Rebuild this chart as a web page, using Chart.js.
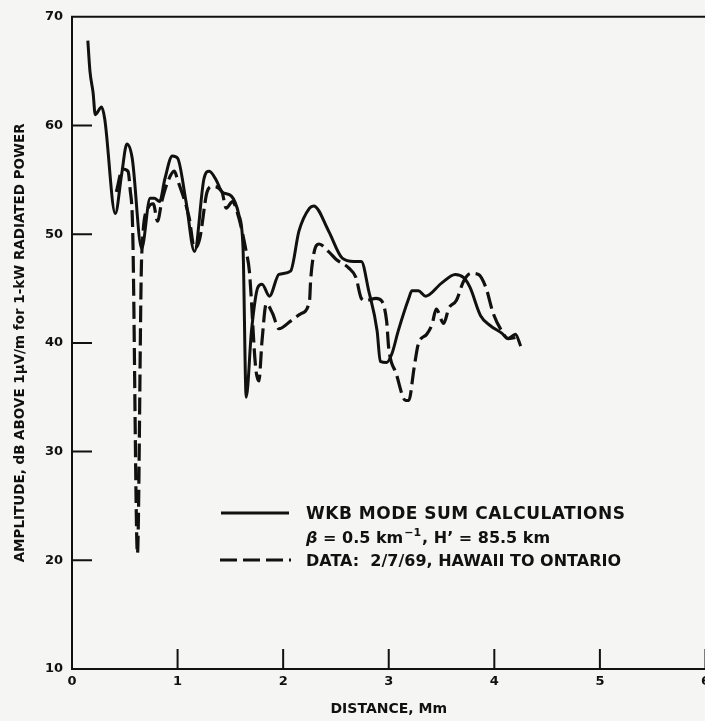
<!DOCTYPE html>
<html lang="en">
<head>
  <meta charset="UTF-8">
  <title>WKB mode sum vs data</title>
  <script src="https://cdn.jsdelivr.net/npm/chart.js"></script>
  <style>
    body {
      margin: 0;
      background: #f5f5f4;
      overflow: hidden;
    }
    #wrap {
      width: 715px;
      height: 721px;
    }
  </style>
</head>
<body>
<div id="wrap">
  <canvas id="ampChart" width="715" height="721"></canvas>
</div>

<script>
  // distance in Mm, amplitude in dB
  const wkbX = [0.15, 0.17, 0.20, 0.22, 0.28, 0.31, 0.41, 0.47, 0.52, 0.57,
    0.66, 0.74, 0.78, 0.83, 0.88, 0.95, 1.00, 1.08, 1.16, 1.25,
    1.30, 1.37, 1.42, 1.51, 1.58, 1.62, 1.65, 1.70, 1.76, 1.80,
    1.87, 1.96, 2.07, 2.15, 2.25, 2.29, 2.43, 2.56, 2.67, 2.74,
    2.81, 2.89, 2.92, 2.98, 3.03, 3.09, 3.19, 3.22, 3.28, 3.35,
    3.50, 3.63, 3.71, 3.77, 3.87, 3.96, 4.07, 4.13, 4.20, 4.25];
  const wkbY = [67.8, 65.0, 63.0, 61.0, 61.7, 60.6, 51.9, 55.5, 58.3, 57.0,
    48.7, 53.3, 53.3, 53.0, 55.1, 57.2, 57.0, 53.0, 48.4, 55.1,
    55.8, 54.9, 53.9, 53.5, 51.8, 48.7, 35.0, 41.1, 45.1, 45.4,
    44.3, 46.3, 46.6, 50.3, 52.4, 52.6, 50.3, 47.8, 47.5, 47.5,
    44.8, 41.1, 38.3, 38.2, 39.0, 41.1, 44.1, 44.8, 44.8, 44.3,
    45.5, 46.3, 46.0, 45.1, 42.5, 41.6, 40.9, 40.4, 40.8, 39.7];

  const dataX = [0.42, 0.48, 0.53, 0.55, 0.575, 0.62, 0.66, 0.72, 0.77, 0.81,
    0.85, 0.91, 0.97, 1.00, 1.11, 1.16, 1.21, 1.28, 1.33, 1.42,
    1.46, 1.52, 1.58, 1.65, 1.68, 1.74, 1.77, 1.80, 1.84, 1.90,
    1.96, 2.07, 2.17, 2.25, 2.26, 2.29, 2.34, 2.43, 2.50, 2.62,
    2.69, 2.74, 2.78, 2.88, 2.93, 2.98, 3.00, 3.07, 3.16, 3.19,
    3.24, 3.28, 3.36, 3.41, 3.45, 3.52, 3.57, 3.64, 3.71, 3.78,
    3.85, 3.92, 3.99, 4.07, 4.13, 4.20];
  const dataY = [53.9, 56.0, 55.8, 54.2, 50.3, 20.6, 48.0, 52.4, 52.8, 51.2,
    53.0, 54.9, 55.8, 55.0, 51.5, 48.7, 49.6, 53.9, 54.4, 53.9,
    52.4, 53.0, 51.5, 48.4, 46.6, 37.7, 36.5, 40.2, 43.6, 42.7,
    41.3, 42.0, 42.7, 43.9, 45.7, 48.2, 49.1, 48.4, 47.7, 46.9,
    46.0, 44.1, 43.9, 44.1, 43.9, 42.0, 39.5, 37.2, 34.7, 34.7,
    37.7, 39.9, 40.8, 41.7, 43.1, 41.8, 43.2, 43.9, 45.7, 46.4,
    46.3, 45.1, 42.7, 41.1, 40.4, 40.5];

  const xTicks = [0, 1, 2, 3, 4, 5, 6];
  const yTicks = [10, 20, 30, 40, 50, 60, 70];

  const legendLines = [
    'WKB MODE SUM CALCULATIONS',
    'DATA:  2/7/69, HAWAII TO ONTARIO'
  ];

  const INK = '#111';
  const FONT = '"DejaVu Sans", sans-serif';

  function toPoints(xs, ys) {
    return xs.map((x, i) => ({ x: x, y: ys[i] }));
  }

  // paper background, inward tick marks, top frame line and the legend
  const paperPlugin = {
    id: 'paper',
    beforeDraw(chart) {
      const ctx = chart.ctx;
      ctx.save();
      ctx.fillStyle = '#f5f5f4';
      ctx.fillRect(0, 0, chart.width, chart.height);
      ctx.restore();
    },
    afterDraw(chart) {
      const ctx = chart.ctx;
      const area = chart.chartArea;
      const xs = chart.scales.x;
      const ys = chart.scales.y;
      ctx.save();
      ctx.strokeStyle = INK;
      ctx.lineWidth = 2;

      // top line
      ctx.beginPath();
      ctx.moveTo(area.left - 1, area.top);
      ctx.lineTo(chart.width, area.top);
      ctx.stroke();

      // inward ticks
      ctx.beginPath();
      yTicks.slice(1, -1).forEach(v => {
        const py = ys.getPixelForValue(v);
        ctx.moveTo(area.left, py);
        ctx.lineTo(area.left + 20, py);
      });
      xTicks.slice(1).forEach(v => {
        const px = xs.getPixelForValue(v);
        ctx.moveTo(px, area.bottom);
        ctx.lineTo(px, area.bottom - 20);
      });
      ctx.stroke();

      // legend
      ctx.lineWidth = 3;
      ctx.beginPath();
      ctx.moveTo(221, 513);
      ctx.lineTo(289, 513);
      ctx.stroke();
      ctx.setLineDash([17, 6]);
      ctx.beginPath();
      ctx.moveTo(220, 560);
      ctx.lineTo(291, 560);
      ctx.stroke();
      ctx.setLineDash([]);

      ctx.fillStyle = INK;
      ctx.textBaseline = 'alphabetic';
      ctx.textAlign = 'left';
      ctx.font = 'bold 17px ' + FONT;
      ctx.letterSpacing = '0.5px';
      ctx.fillText(legendLines[0], 306, 519);
      ctx.letterSpacing = '0px';

      // beta line with superscript
      let x = 306;
      ctx.font = 'italic bold 16px ' + FONT;
      ctx.fillText('β', x, 543);
      x += ctx.measureText('β').width;
      ctx.font = 'bold 16px ' + FONT;
      let s = ' = 0.5 km';
      ctx.fillText(s, x, 543);
      x += ctx.measureText(s).width;
      ctx.font = 'bold 11px ' + FONT;
      ctx.fillText('\u22121', x + 1, 536);
      x += ctx.measureText('\u22121').width + 2;
      ctx.font = 'bold 16px ' + FONT;
      ctx.fillText(', H\u2019 = 85.5 km', x, 543);

      ctx.font = 'bold 16px ' + FONT;
      ctx.fillText(legendLines[1], 306, 566);
      ctx.restore();
    }
  };

  const ctx = document.getElementById('ampChart').getContext('2d');
  new Chart(ctx, {
    type: 'line',
    data: {
      datasets: [{
        label: 'WKB mode sum calculations',
        data: toPoints(wkbX, wkbY),
        borderColor: INK,
        borderWidth: 3,
        pointRadius: 0,
        cubicInterpolationMode: 'monotone',
        fill: false
      }, {
        label: 'Data: 2/7/69, Hawaii to Ontario',
        data: toPoints(dataX, dataY),
        borderColor: INK,
        borderWidth: 3.2,
        borderDash: [17, 6],
        pointRadius: 0,
        cubicInterpolationMode: 'monotone',
        fill: false
      }]
    },
    options: {
      responsive: false,
      animation: false,
      layout: {
        padding: { top: 15, right: 7, left: 0, bottom: 0 }
      },
      plugins: {
        legend: { display: false },
        tooltip: { enabled: false }
      },
      scales: {
        x: {
          type: 'linear',
          min: 0,
          max: 6,
          afterBuildTicks: scale => {
            scale.ticks = xTicks.map(v => ({ value: v }));
          },
          afterFit: scale => { scale.height = 52; },
          grid: { display: false, drawTicks: false },
          border: { display: true, color: INK, width: 2 },
          ticks: {
            padding: 5,
            color: INK,
            font: { family: FONT, size: 13, weight: 'bold' }
          },
          title: {
            display: true,
            text: 'DISTANCE, Mm',
            color: INK,
            font: { family: FONT, size: 14, weight: 'bold' },
            padding: { top: 0, bottom: 3 }
          }
        },
        y: {
          type: 'linear',
          min: 10,
          max: 70,
          afterBuildTicks: scale => {
            scale.ticks = yTicks.map(v => ({ value: v }));
          },
          afterFit: scale => { scale.width = 72; },
          grid: { display: false, drawTicks: false },
          border: { display: true, color: INK, width: 2 },
          ticks: {
            padding: 9,
            color: INK,
            font: { family: FONT, size: 13, weight: 'bold' }
          },
          title: {
            display: true,
            text: 'AMPLITUDE, dB ABOVE 1\u03bcV/m for 1-kW RADIATED POWER',
            color: INK,
            font: { family: FONT, size: 13.5, weight: 'bold' },
            padding: { top: 12, bottom: 0 }
          }
        }
      }
    },
    plugins: [paperPlugin]
  });
</script>
</body>
</html>
